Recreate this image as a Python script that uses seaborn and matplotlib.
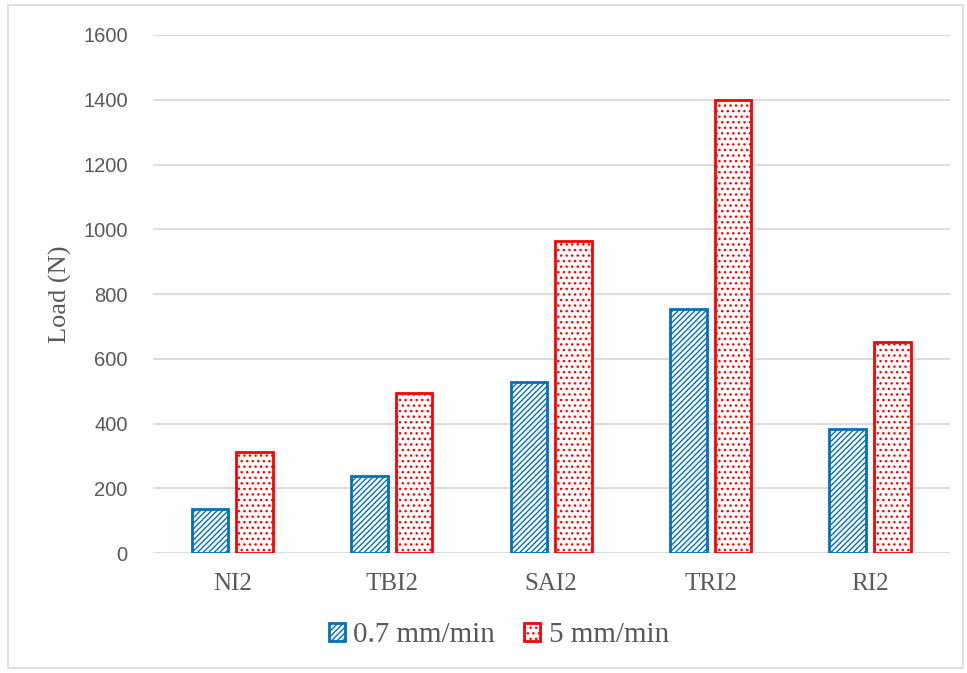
import matplotlib
matplotlib.use("Agg")
import matplotlib.pyplot as plt
from matplotlib.patches import Patch, Rectangle
import pandas as pd
import seaborn as sns

samples = ["NI2", "TBI2", "SAI2", "TRI2", "RI2"]
rates = ["0.7 mm/min", "5 mm/min"]
load_slow = [138, 238, 528, 754, 383]
load_fast = [312, 495, 964, 1400, 652]
y_ticks = [0, 200, 400, 600, 800, 1000, 1200, 1400, 1600]

colors = {"0.7 mm/min": "#0070C0", "5 mm/min": "#FF0000"}
hatches = {"0.7 mm/min": "//////", "5 mm/min": "..."}

df = pd.DataFrame({
    "sample": samples * 2,
    "rate": [rates[0]] * len(samples) + [rates[1]] * len(samples),
    "load": load_slow + load_fast,
})

sns.set_theme(style="white")
plt.rcParams["hatch.linewidth"] = 1.0

fig = plt.figure(figsize=(9.67, 6.73), dpi=100)
ax = fig.add_axes([0.158, 0.178, 0.824, 0.770])

sns.barplot(data=df, x="sample", y="load", hue="rate", order=samples,
            hue_order=rates, width=0.56, gap=0.18, ax=ax, legend=False,
            errorbar=None)

for container, rate in zip(ax.containers, rates):
    for bar in container:
        bar.set_facecolor("white")
        bar.set_edgecolor(colors[rate])
        bar.set_hatch(hatches[rate])
        bar.set_linewidth(2.0)
        bar.set_zorder(3)

ax.set_ylim(0, 1600)
ax.set_yticks(y_ticks)
ax.set_yticklabels([str(v) for v in y_ticks], family="Liberation Sans",
                   fontsize=14.5, color="#595959")
ax.tick_params(axis="y", length=0, pad=18)
ax.tick_params(axis="x", length=0, pad=14)
for lbl in ax.get_xticklabels():
    lbl.set_family("Liberation Serif")
    lbl.set_fontsize(18)
    lbl.set_color("#595959")

ax.grid(axis="y", color="#D9D9D9", linewidth=1.3, zorder=0)
ax.set_axisbelow(True)
for side in ["top", "right", "left", "bottom"]:
    ax.spines[side].set_visible(False)

ax.set_xlabel("")
ax.set_ylabel("Load (N)", family="Liberation Serif", fontsize=19,
              color="#595959", labelpad=8)

handles = [Patch(facecolor="white", edgecolor=colors[r], hatch=hatches[r],
                 linewidth=2.0) for r in rates]
fig.legend(handles, rates, loc="center", bbox_to_anchor=(0.516, 0.056),
           ncol=2, frameon=False, prop={"family": "Liberation Serif", "size": 21},
           labelcolor="#595959", handlelength=0.55, handleheight=0.55,
           handletextpad=0.3, columnspacing=1.0)

# light chart frame
fig.patches.append(Rectangle((0.008, 0.007), 0.988, 0.985,
                             transform=fig.transFigure, fill=False,
                             edgecolor="#D9D9D9", linewidth=1.2))

fig.savefig("out.png", dpi=100)
